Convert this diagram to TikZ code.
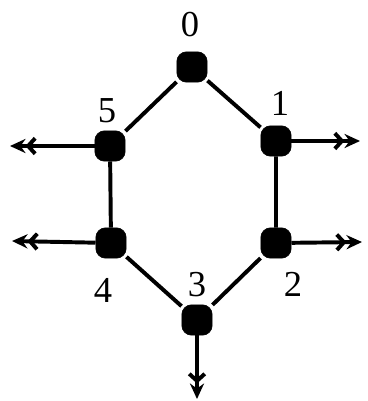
\documentclass[tikz,border=0pt]{standalone}
\usepackage{fontspec}
\setmainfont{Liberation Serif}
\usetikzlibrary{arrows.meta, positioning}

\begin{document}
\begin{tikzpicture}[
    x=0.025cm, y=-0.025cm,
    vertex/.style={rectangle, rounded corners=7pt, fill=black, draw=black, minimum size=0.76cm, inner sep=0pt},
    lbl/.style={font=\fontsize{26}{30}\selectfont, inner sep=0pt},
    edge/.style={line width=2.8pt},
    arrow/.style={line width=2.8pt, -{Straight Barb[length=5pt,width=11pt]Stealth[length=11pt,width=10pt]}},
]
\useasboundingbox (0,0) rectangle (368,401);

% Vertices
\node[vertex] (v0) at (192,67) {};
\node[vertex] (v1) at (276,141) {};
\node[vertex] (v2) at (276,243) {};
\node[vertex] (v3) at (197,320) {};
\node[vertex] (v4) at (111,243) {};
\node[vertex] (v5) at (110,146) {};

% Labels
\node[lbl] (l0) at (190,25) {0};
\node[lbl] (l1) at (280,103) {1};
\node[lbl] (l2) at (293,284) {2};
\node[lbl] (l3) at (197,285) {3};
\node[lbl] (l4) at (103,290) {4};
\node[lbl] (l5) at (107,111) {5};

% Free ends of the outputs
\coordinate (o1) at (360,141);
\coordinate (o2) at (362,242);
\coordinate (o3) at (197,399);
\coordinate (o4) at (12,241);
\coordinate (o5) at (10,146);

% Ring
\draw[edge] (v0) -- (v1) -- (v2) -- (v3) -- (v4) -- (v5) -- (v0);

% Outputs
\draw[arrow] (v1) -- (o1);
\draw[arrow] (v2) -- (o2);
\draw[arrow] (v3) -- (o3);
\draw[arrow] (v4) -- (o4);
\draw[arrow] (v5) -- (o5);

\end{tikzpicture}
\end{document}
